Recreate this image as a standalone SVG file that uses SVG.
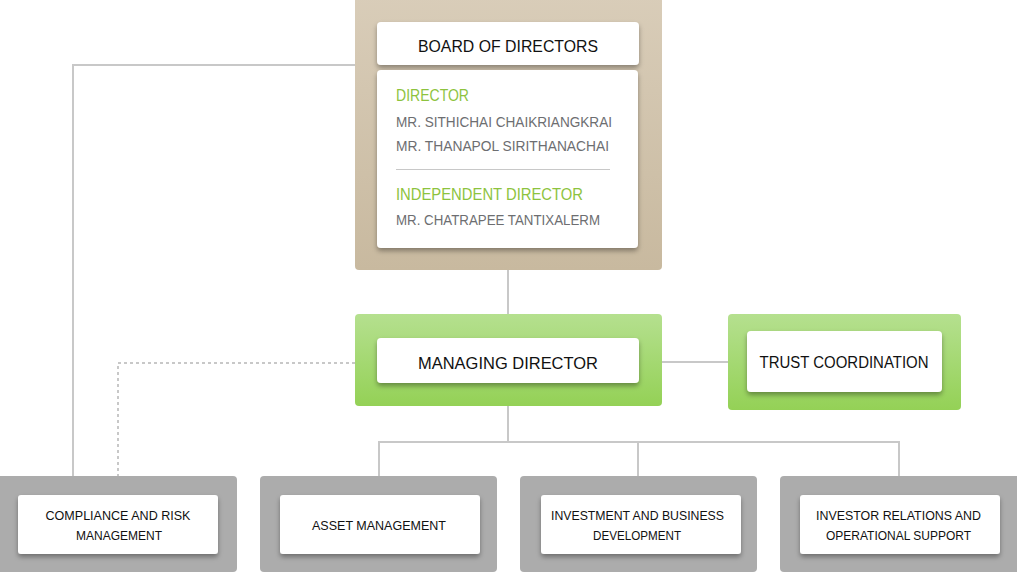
<svg xmlns="http://www.w3.org/2000/svg" width="1017" height="574" viewBox="0 0 1017 574">
<defs>
<linearGradient id="gBoard" x1="0" y1="0" x2="0" y2="1"><stop offset="0" stop-color="#d9cdb9"/><stop offset="1" stop-color="#c8b99f"/></linearGradient>
<linearGradient id="gGreen" x1="0" y1="0" x2="0" y2="1"><stop offset="0" stop-color="#b5e08f"/><stop offset="1" stop-color="#94d156"/></linearGradient>
<filter id="sh" x="-10%" y="-20%" width="120%" height="150%"><feDropShadow dx="0" dy="3" stdDeviation="2.5" flood-color="#000" flood-opacity="0.35"/></filter>
</defs>
<style>
.conn{fill:none;stroke:#c8c8c8;stroke-width:2}
.dash{stroke-dasharray:3 3}
.inner{fill:#fff;filter:url(#sh)}
.grey{fill:#acacac}
.t{font-family:"Liberation Sans",Arial,sans-serif;fill:#111}
.big{font-size:17px}
.sm{font-size:13px}
.green{font-family:"Liberation Sans",Arial,sans-serif;font-size:17px;fill:#8dc33e}
.name{font-family:"Liberation Sans",Arial,sans-serif;font-size:15px;fill:#6d6e71}
</style>
<rect width="1017" height="574" fill="#fff"/>
<g id="connectors">
<polyline class="conn" points="355,65 73,65 73,476"/>
<line class="conn" x1="508" y1="270" x2="508" y2="314"/>
<polyline class="conn dash" points="355,363 118,363 118,476"/>
<line class="conn" x1="662" y1="362" x2="728" y2="362"/>
<line class="conn" x1="508" y1="406" x2="508" y2="442"/>
<polyline class="conn" points="379,476 379,442 899,442 899,476"/>
<line class="conn" x1="638" y1="442" x2="638" y2="476"/>
</g>
<g id="board">
<rect x="355" y="-6" width="307" height="276" rx="4" fill="url(#gBoard)"/>
<rect class="inner" x="377" y="22" width="262" height="43" rx="4"/>
<text class="t big" x="508" y="52" text-anchor="middle" textLength="180" lengthAdjust="spacingAndGlyphs">BOARD OF DIRECTORS</text>
<rect class="inner" x="377" y="70" width="261" height="178" rx="4"/>
<text class="green" x="396" y="101" textLength="73" lengthAdjust="spacingAndGlyphs">DIRECTOR</text>
<text class="name" x="396" y="127" textLength="216" lengthAdjust="spacingAndGlyphs">MR. SITHICHAI CHAIKRIANGKRAI</text>
<text class="name" x="396" y="151" textLength="213" lengthAdjust="spacingAndGlyphs">MR. THANAPOL SIRITHANACHAI</text>
<line x1="396" y1="169.5" x2="610" y2="169.5" stroke="#c8c8c8" stroke-width="1"/>
<text class="green" x="396" y="200" textLength="187" lengthAdjust="spacingAndGlyphs">INDEPENDENT DIRECTOR</text>
<text class="name" x="396" y="225" textLength="204" lengthAdjust="spacingAndGlyphs">MR. CHATRAPEE TANTIXALERM</text>
</g>
<g id="managing-director">
<rect x="355" y="314" width="307" height="92" rx="4" fill="url(#gGreen)"/>
<rect class="inner" x="377" y="338" width="262" height="45" rx="4"/>
<text class="t big" x="508" y="369" text-anchor="middle" textLength="180" lengthAdjust="spacingAndGlyphs">MANAGING DIRECTOR</text>
</g>
<g id="trust-coordination">
<rect x="728" y="314" width="233" height="96" rx="4" fill="url(#gGreen)"/>
<rect class="inner" x="747" y="331" width="195" height="61" rx="4"/>
<text class="t" font-size="16" x="844" y="368" text-anchor="middle" textLength="169" lengthAdjust="spacingAndGlyphs">TRUST COORDINATION</text>
</g>
<g id="compliance">
<rect class="grey" x="-4" y="476" width="241" height="96" rx="4"/>
<rect class="inner" x="18" y="495" width="200" height="59" rx="3"/>
<text class="t sm" x="118" y="520" text-anchor="middle" textLength="145" lengthAdjust="spacingAndGlyphs">COMPLIANCE AND RISK</text>
<text class="t sm" x="119" y="540" text-anchor="middle" textLength="86" lengthAdjust="spacingAndGlyphs">MANAGEMENT</text>
</g>
<g id="asset">
<rect class="grey" x="260" y="476" width="237" height="96" rx="4"/>
<rect class="inner" x="280" y="495" width="200" height="59" rx="3"/>
<text class="t sm" x="379" y="530" text-anchor="middle" textLength="134" lengthAdjust="spacingAndGlyphs">ASSET MANAGEMENT</text>
</g>
<g id="investment">
<rect class="grey" x="520" y="476" width="237" height="96" rx="4"/>
<rect class="inner" x="541" y="495" width="200" height="59" rx="3"/>
<text class="t sm" x="637.5" y="520" text-anchor="middle" textLength="173" lengthAdjust="spacingAndGlyphs">INVESTMENT AND BUSINESS</text>
<text class="t sm" x="637" y="540" text-anchor="middle" textLength="88" lengthAdjust="spacingAndGlyphs">DEVELOPMENT</text>
</g>
<g id="investor-relations">
<rect class="grey" x="780" y="476" width="241" height="96" rx="4"/>
<rect class="inner" x="800" y="495" width="200" height="59" rx="3"/>
<text class="t sm" x="898.5" y="520" text-anchor="middle" textLength="165" lengthAdjust="spacingAndGlyphs">INVESTOR RELATIONS AND</text>
<text class="t sm" x="898.5" y="540" text-anchor="middle" textLength="145" lengthAdjust="spacingAndGlyphs">OPERATIONAL SUPPORT</text>
</g>
</svg>
